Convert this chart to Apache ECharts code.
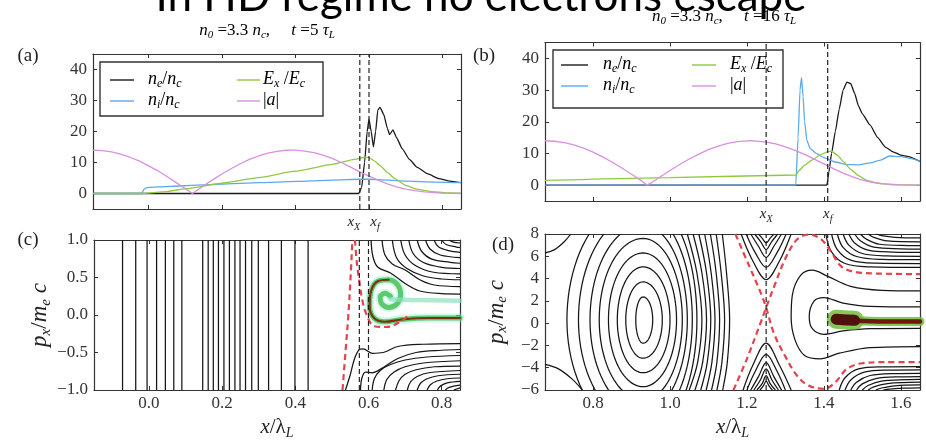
<!DOCTYPE html>
<html><head><meta charset="utf-8">
<script src="https://cdn.jsdelivr.net/npm/echarts@6/dist/echarts.min.js"></script>
<style>html,body{margin:0;padding:0;background:#fff;}#fig{width:926px;height:441px;}</style>
</head><body><div id="fig"></div>
<script>
// ---------------- axis ranges and ticks ----------------
const xRangeEarly = [-0.15, 0.85];   // panels (a), (c)
const xRangeLate = [0.675, 1.65];    // panels (b), (d)
const yRangeProfile = [-5, 45];
const yRangePhaseC = [-1, 1];
const yRangePhaseD = [-6, 8];
const xTicksEarly = [0, 0.2, 0.4, 0.6, 0.8];
const xTicksLate = [0.8, 1.0, 1.2, 1.4, 1.6];
const yTicksProfile = [0, 10, 20, 30, 40];
const yTicksC = [-1, -0.5, 0, 0.5, 1];
const yTicksD = [-6, -4, -2, 0, 2, 4, 6, 8];
const frontEarly = [0.575, 0.6];   // x_X, x_f at t = 5 tau_L
const frontLate = [1.25, 1.41];    // x_X, x_f at t = 16 tau_L

// ---------------- panel (a): profiles at t = 5 tau_L ----------------
const aNe = [[-0.15,0],[0.572,0],[0.58,2],[0.588,10],[0.595,20],[0.6,24],[0.606,20],[0.612,15],[0.618,20],[0.624,27],[0.63,27.8],[0.64,25.5],[0.65,21],[0.656,19],[0.665,20.5],[0.675,18],[0.69,14.5],[0.71,11],[0.73,8.5],[0.76,6.3],[0.79,4.8],[0.82,4],[0.85,3.5]];
const aNi = [[-0.15,0],[-0.018,0],[-0.01,1.6],[0.0,2.0],[0.1,2.5],[0.2,3],[0.3,3.5],[0.4,3.9],[0.5,4.3],[0.575,4.6],[0.6,4.6],[0.65,4.3],[0.7,4.0],[0.78,3.7],[0.85,3.5]];
const aEx = [[-0.15,0],[-0.02,0],[0.05,0.6],[0.1,1.5],[0.2,3.3],[0.3,5.1],[0.4,7.2],[0.5,9.4],[0.56,11],[0.59,11.7],[0.6,11.6],[0.615,10.5],[0.63,9],[0.65,6.8],[0.67,4.8],[0.7,2.6],[0.73,1.4],[0.77,0.6],[0.81,0.2],[0.85,0.1]];
const aA = [[-0.15,14],[-0.125,13.85],[-0.1,13.4],[-0.075,12.7],[-0.05,11.7],[-0.025,10.5],[0,9.0],[0.025,7.4],[0.05,5.55],[0.075,3.6],[0.1,1.6],[0.12,0],[0.125,0.4],[0.15,2.4],[0.175,4.4],[0.2,6.3],[0.225,8.0],[0.25,9.6],[0.275,11.0],[0.3,12.1],[0.325,13.0],[0.35,13.6],[0.375,13.95],[0.39,14],[0.4,13.98],[0.425,13.7],[0.45,13.2],[0.475,12.4],[0.5,11.3],[0.525,10.0],[0.55,8.5],[0.575,7.0],[0.6,5.6],[0.625,4.3],[0.65,3.1],[0.675,2.1],[0.7,1.4],[0.725,0.9],[0.75,0.5],[0.8,0.15],[0.85,0]];

// ---------------- panel (b): profiles at t = 16 tau_L ----------------
const bNe = [[0.675,0],[1.408,0],[1.413,4],[1.42,10],[1.43,17],[1.44,24],[1.45,30],[1.46,32.5],[1.47,32],[1.48,29],[1.49,25],[1.5,22.5],[1.52,19],[1.54,15],[1.56,12],[1.58,10.5],[1.6,9.5],[1.62,9],[1.65,7.5]];
const bNi = [[0.675,0],[1.327,0],[1.333,15],[1.338,30],[1.342,34],[1.346,28],[1.35,20],[1.356,14],[1.365,11.5],[1.38,10],[1.4,8.7],[1.43,7.3],[1.46,6.5],[1.49,6.4],[1.52,7],[1.55,8],[1.57,9.2],[1.6,9],[1.63,8.3],[1.65,7.5]];
const bEx = [[0.675,1.5],[1.0,2.4],[1.327,3.2],[1.335,4.5],[1.35,6.3],[1.37,8],[1.39,9.5],[1.41,10.6],[1.42,10.7],[1.435,9.5],[1.45,7.5],[1.47,5],[1.49,3],[1.51,1.6],[1.54,0.6],[1.58,0.1],[1.65,0]];
const bA = [[0.675,14],[0.7,13.85],[0.725,13.4],[0.75,12.67],[0.775,11.66],[0.8,10.4],[0.825,8.9],[0.85,7.24],[0.875,5.4],[0.9,3.46],[0.925,1.44],[0.94,0],[0.95,0.62],[0.975,2.66],[1.0,4.64],[1.025,6.52],[1.05,8.26],[1.075,9.81],[1.1,11.18],[1.125,12.3],[1.15,13.17],[1.175,13.72],[1.2,13.98],[1.21,14],[1.225,13.9],[1.25,13.6],[1.275,13.0],[1.3,12.1],[1.325,11.0],[1.35,9.7],[1.375,8.2],[1.4,6.7],[1.425,5.2],[1.45,3.8],[1.475,2.6],[1.5,1.6],[1.525,0.9],[1.55,0.45],[1.6,0.1],[1.65,0]];

// ---------------- panel (c): phase space contours at t = 5 tau_L ----------------
const cVertical = [-0.072,-0.036,-0.005,0.021,0.045,0.068,0.09,0.147,0.162,0.176,0.19,0.205,0.22,0.235,0.249,0.264,0.281,0.299,0.327,0.362,0.399,0.435];
const cUpper = [
  [[0.607,1],[0.612,0.78],[0.625,0.64],[0.66,0.56],[0.7,0.42],[0.74,0.32],[0.8,0.285],[0.85,0.28]],
  [[0.637,1],[0.645,0.8],[0.665,0.68],[0.7,0.6],[0.74,0.47],[0.78,0.4],[0.85,0.38]],
  [[0.665,1],[0.677,0.76],[0.705,0.62],[0.75,0.52],[0.8,0.48],[0.85,0.47]],
  [[0.688,1],[0.7,0.8],[0.728,0.66],[0.778,0.57],[0.85,0.55]],
  [[0.71,1],[0.722,0.82],[0.75,0.7],[0.8,0.635],[0.85,0.62]],
  [[0.733,1],[0.745,0.85],[0.773,0.745],[0.823,0.702],[0.85,0.69]],
  [[0.756,1],[0.768,0.88],[0.796,0.8],[0.85,0.765]],
  [[0.779,1],[0.791,0.91],[0.819,0.858],[0.85,0.835]],
  [[0.8,1],[0.812,0.94],[0.84,0.906],[0.85,0.9]],
  [[0.82,1],[0.832,0.972],[0.85,0.96]]
];
const cLower = [
  [[0.537,-1],[0.55,-0.8],[0.562,-0.58],[0.575,-0.46],[0.585,-0.45],[0.61,-0.51],[0.64,-0.5],[0.68,-0.42],[0.75,-0.39],[0.85,-0.38]],
  [[0.578,-1],[0.582,-0.84],[0.592,-0.76],[0.61,-0.77],[0.64,-0.7],[0.68,-0.58],[0.73,-0.5],[0.8,-0.47],[0.85,-0.46]],
  [[0.61,-1],[0.616,-0.85],[0.632,-0.74],[0.66,-0.66],[0.7,-0.6],[0.76,-0.56],[0.85,-0.54]],
  [[0.642,-1],[0.65,-0.86],[0.67,-0.76],[0.7,-0.69],[0.75,-0.64],[0.85,-0.61]],
  [[0.674,-1],[0.683,-0.88],[0.7,-0.79],[0.73,-0.73],[0.78,-0.69],[0.85,-0.68]],
  [[0.706,-1],[0.715,-0.89],[0.733,-0.82],[0.765,-0.77],[0.85,-0.74]],
  [[0.733,-1],[0.742,-0.91],[0.76,-0.85],[0.79,-0.81],[0.85,-0.79]],
  [[0.76,-1],[0.769,-0.93],[0.787,-0.88],[0.815,-0.85],[0.85,-0.84]],
  [[0.788,-1],[0.797,-0.945],[0.815,-0.905],[0.85,-0.885]],
  [[0.81,-1],[0.82,-0.965],[0.85,-0.935]],
  [[0.833,-1],[0.85,-0.972]]
];
const cSeparatrix = [
  [[0.529,-1],[0.537,-0.5],[0.545,0],[0.551,0.5],[0.556,1]],
  [[0.563,1],[0.568,0.7],[0.575,0.45],[0.583,0.2],[0.595,0],[0.615,-0.15],[0.65,-0.16],[0.69,-0.08],[0.71,0.0]]
];
const cSwirl = [[0.85,-0.04],[0.76,-0.04],[0.69,-0.06],[0.645,-0.09],[0.615,-0.04],[0.603,0.12],[0.607,0.32],[0.625,0.45],[0.655,0.47],[0.68,0.4],[0.688,0.27],[0.678,0.15],[0.655,0.1],[0.636,0.15],[0.632,0.24],[0.645,0.29],[0.66,0.25]];
const cSwirlTail = [[0.66,0.21],[0.72,0.2],[0.85,0.19]];

// ---------------- panel (d): phase space contours at t = 16 tau_L ----------------
// closed orbits: [centre x, centre y, left x, right x, top y, bottom y]
const dOrbits = [
  [0.93,0.3,0.911,0.955,2.35,-1.8],
  [0.93,0.3,0.885,0.98,3.7,-3.15],
  [0.93,0.3,0.863,1.0,5.05,-4.45],
  [0.93,0.3,0.84,1.017,6.3,-5.7],
  [0.93,0.3,0.816,1.032,7.6,-6.9],
  [0.93,0.3,0.792,1.045,8.8,-8.0],
  [0.93,0.3,0.762,1.058,10.0,-9.1],
  [0.93,0.3,0.732,1.07,11.2,-10.2]
];
const dArcs = [
  [[1.045,8],[1.07,4.5],[1.083,0.3],[1.072,-3.5],[1.05,-6]],
  [[1.06,8],[1.083,4.5],[1.095,0.3],[1.085,-3.5],[1.065,-6]],
  [[1.075,8],[1.095,4.5],[1.106,0.3],[1.097,-3.5],[1.08,-6]],
  [[1.09,8],[1.107,4.5],[1.117,0.3],[1.109,-3.5],[1.094,-6]],
  [[1.105,8],[1.12,4.5],[1.129,0.3],[1.122,-3.5],[1.108,-6]],
  [[1.12,8],[1.133,4.5],[1.142,0.3],[1.135,-3.5],[1.122,-6]],
  [[1.136,8],[1.147,4.5],[1.155,0.3],[1.149,-3.5],[1.137,-6]],
  [[0.675,6.3],[0.7,6.6],[0.725,7.3],[0.742,8]],
  [[0.675,-3.7],[0.71,-4.1],[0.745,-5],[0.772,-6]]
];
const dSaddleUp = [
  [[1.185,8],[1.215,5.6],[1.25,3.9],[1.285,5.6],[1.315,8]],
  [[1.198,8],[1.222,6.3],[1.25,5.0],[1.278,6.3],[1.302,8]],
  [[1.21,8],[1.23,6.9],[1.25,5.9],[1.27,6.9],[1.29,8]],
  [[1.22,8],[1.236,7.3],[1.25,6.6],[1.264,7.3],[1.28,8]],
  [[1.23,8],[1.24,7.6],[1.25,7.2],[1.26,7.6],[1.27,8]]
];
const dSaddleDown = [
  [[1.19,-6],[1.215,-3.8],[1.25,-1.8],[1.285,-3.8],[1.315,-6]],
  [[1.2,-6],[1.222,-4.3],[1.25,-2.8],[1.278,-4.3],[1.3,-6]],
  [[1.21,-6],[1.23,-4.8],[1.25,-3.55],[1.27,-4.8],[1.29,-6]],
  [[1.218,-6],[1.235,-5.1],[1.25,-4.1],[1.265,-5.1],[1.282,-6]],
  [[1.226,-6],[1.24,-5.4],[1.25,-4.7],[1.26,-5.4],[1.274,-6]],
  [[1.234,-6],[1.243,-5.6],[1.25,-5.2],[1.257,-5.6],[1.266,-6]]
];
const dInner = [
  [[1.65,2.9],[1.55,2.95],[1.47,3.3],[1.41,4.2],[1.37,4.75],[1.34,4.3],[1.318,2.5],[1.315,0.5],[1.325,-1.5],[1.35,-2.9],[1.39,-3.2],[1.44,-2.7],[1.52,-2.2],[1.65,-2.1]],
  [[1.65,1.45],[1.52,1.5],[1.45,1.8],[1.4,2.3],[1.375,2.0],[1.362,0.6],[1.37,-0.5],[1.4,-1.0],[1.45,-0.7],[1.52,-0.5],[1.65,-0.47]]
];
const dUpperRight = [
  [[1.405,8],[1.42,6.4],[1.455,5.35],[1.52,5.05],[1.65,5.0]],
  [[1.42,8],[1.435,6.6],[1.47,5.65],[1.535,5.38],[1.65,5.35]],
  [[1.435,8],[1.45,6.8],[1.485,5.98],[1.55,5.73],[1.65,5.7]],
  [[1.45,8],[1.465,7.0],[1.5,6.25],[1.565,6.03],[1.65,6.0]],
  [[1.465,8],[1.48,7.2],[1.515,6.55],[1.58,6.38],[1.65,6.35]],
  [[1.48,8],[1.495,7.4],[1.53,6.82],[1.6,6.67],[1.65,6.65]],
  [[1.495,8],[1.51,7.55],[1.545,7.08],[1.62,6.96],[1.65,6.95]],
  [[1.515,8],[1.53,7.7],[1.565,7.38],[1.65,7.3]],
  [[1.535,8],[1.55,7.85],[1.585,7.7],[1.65,7.65]]
];
const dLowerRight = [
  [[1.44,-6],[1.455,-4.9],[1.49,-4.1],[1.55,-3.92],[1.65,-3.9]],
  [[1.455,-6],[1.47,-5.1],[1.505,-4.4],[1.565,-4.22],[1.65,-4.2]],
  [[1.47,-6],[1.485,-5.3],[1.52,-4.7],[1.58,-4.52],[1.65,-4.5]],
  [[1.485,-6],[1.5,-5.45],[1.535,-4.97],[1.6,-4.82],[1.65,-4.8]],
  [[1.5,-6],[1.515,-5.6],[1.55,-5.2],[1.615,-5.07],[1.65,-5.05]],
  [[1.515,-6],[1.53,-5.72],[1.565,-5.42],[1.65,-5.3]],
  [[1.535,-6],[1.55,-5.82],[1.585,-5.62],[1.65,-5.55]],
  [[1.555,-6],[1.57,-5.92],[1.605,-5.84],[1.65,-5.8]]
];
const dSeparatrix = [
  [[1.165,-6],[1.2,-3.2],[1.232,-0.3],[1.25,1.4],[1.272,3.4],[1.3,5.8],[1.33,7.5],[1.36,7.95],[1.39,7.6],[1.415,6.6],[1.445,5.1],[1.48,4.6],[1.54,4.45],[1.65,4.4]],
  [[1.17,8],[1.205,5.2],[1.235,2.8],[1.25,1.4],[1.27,-0.9],[1.3,-3.0],[1.33,-4.7],[1.36,-5.6],[1.4,-5.9],[1.43,-5.3],[1.46,-4.1],[1.5,-3.6],[1.56,-3.5],[1.65,-3.5]]
];
const dBunchHead = [[1.432,0.35],[1.45,0.3],[1.48,0.25]];
const dBunchTail = [[1.432,0.3],[1.5,0.2],[1.57,0.15],[1.65,0.15]];

// ---------------- styles ----------------
const SERIF = 'Liberation Serif';
const INK = '#161616';
const RED = '#e2434d';
const AXIS = '#333';
const C_NE = '#1a1a1a', C_NI = '#5ea8ec', C_EX = '#90c940', C_A = '#d890e0';

function mathRich(base, sub, color) {
  const c = color || '#222';
  return {
    i: {fontFamily: SERIF, fontStyle: 'italic', fontSize: base, lineHeight: base, verticalAlign: 'top', color: c},
    r: {fontFamily: SERIF, fontSize: base, lineHeight: base, verticalAlign: 'top', color: c},
    s: {fontFamily: SERIF, fontStyle: 'italic', fontSize: sub, lineHeight: sub, padding: [Math.round(base * 0.45), 0, 0, 0], verticalAlign: 'top', color: c},
    g: {width: 12, fontSize: base, lineHeight: base}
  };
}
const signed = (d) => (v) => (v < 0 ? '\u2212' : '') + Math.abs(v).toFixed(d);

const grids = [
  {left: 93, top: 54, width: 368, height: 155},
  {left: 545, top: 42.5, width: 375, height: 158.5},
  {left: 94, top: 240, width: 366, height: 154},
  {left: 545, top: 234, width: 375, height: 159}
];

const xAxes = [], yAxes = [];
function frame(gi, xr, yr, xt, yt, o) {
  const lineStyle = {color: AXIS, width: 1.2};
  const tick = (vals) => ({show: true, inside: true, length: 4, customValues: vals, lineStyle: {color: AXIS, width: 1}});
  const lab = {fontFamily: SERIF, fontSize: 17, color: '#333'};
  xAxes[gi] = Object.assign({gridIndex: gi, type: 'value', min: xr[0], max: xr[1], position: 'bottom',
    axisLine: {onZero: false, lineStyle}, axisTick: tick(xt), splitLine: {show: false},
    axisLabel: o.xLabel}, o.xName || {});
  xAxes[gi + 4] = {gridIndex: gi, type: 'value', min: xr[0], max: xr[1], position: 'top',
    axisLine: {onZero: false, lineStyle}, axisTick: tick(xt), splitLine: {show: false}, axisLabel: {show: false}};
  yAxes[gi] = Object.assign({gridIndex: gi, type: 'value', min: yr[0], max: yr[1], position: 'left',
    axisLine: {onZero: false, lineStyle}, axisTick: tick(yt), splitLine: {show: false},
    axisLabel: Object.assign({customValues: yt, formatter: o.yFmt, margin: 6}, lab)}, o.yName || {});
  yAxes[gi + 4] = {gridIndex: gi, type: 'value', min: yr[0], max: yr[1], position: 'right',
    axisLine: {onZero: false, lineStyle}, axisTick: tick(yt), splitLine: {show: false}, axisLabel: {show: false}};
}
const tickLab = {fontFamily: SERIF, fontSize: 17, color: '#333', margin: 5};
// bare axis that only carries one front label (x_X) under a profile panel
function frontAxis(gi, xr, x, text) {
  return {gridIndex: gi, type: 'value', min: xr[0], max: xr[1], position: 'bottom',
    axisLine: {show: false}, axisTick: {show: false}, splitLine: {show: false},
    axisLabel: {customValues: [x], margin: 6, formatter: () => text, rich: mathRich(15, 10)}};
}
const xName = (gap) => ({name: '{i|x}{r|/\u03bb}{s|L}', nameLocation: 'middle', nameGap: gap,
  nameTextStyle: {rich: mathRich(21, 14)}});
const yName = (gap) => ({name: '{i|p}{s|x}{r|/}{i|m}{s|e}{i| c}', nameLocation: 'middle', nameGap: gap, nameRotate: 90,
  nameTextStyle: {rich: mathRich(23, 15)}});

frame(0, xRangeEarly, yRangeProfile, xTicksEarly, yTicksProfile,
  {xLabel: {customValues: [frontEarly[1]], margin: 6, formatter: () => '{g|}{i|x}{s|f}', rich: mathRich(15, 10)}, yFmt: signed(0)});
frame(1, xRangeLate, yRangeProfile, xTicksLate, yTicksProfile,
  {xLabel: {customValues: [frontLate[1]], margin: 6, formatter: () => '{i|x}{s|f}', rich: mathRich(15, 10)}, yFmt: signed(0)});
frame(2, xRangeEarly, yRangePhaseC, xTicksEarly, yTicksC, {xLabel: Object.assign({customValues: xTicksEarly, formatter: signed(1)}, tickLab), yFmt: signed(1), xName: xName(27), yName: yName(42)});
frame(3, xRangeLate, yRangePhaseD, xTicksLate, yTicksD, {xLabel: Object.assign({customValues: xTicksLate, formatter: signed(1)}, tickLab), yFmt: signed(0), xName: xName(27), yName: yName(37)});
xAxes[8] = frontAxis(0, xRangeEarly, frontEarly[0], '{i|x}{s|X}{g|}');
xAxes[9] = frontAxis(1, xRangeLate, frontLate[0], '{i|x}{s|X}');

// ---------------- series ----------------
const series = [];
function curve(gi, pts, lineStyle, extra) {
  series.push(Object.assign({type: 'line', xAxisIndex: gi, yAxisIndex: gi, data: pts, symbol: 'none',
    silent: true, animation: false, smooth: 0.35, clip: true, lineStyle, z: 2}, extra || {}));
}
const profile = {smooth: 0.15, smoothMonotone: 'x'};
const thin = (c) => ({color: c, width: 1.3});

// profiles
[[0, aNe, aNi, aEx, aA], [1, bNe, bNi, bEx, bA]].forEach(([gi, ne, ni, ex, a]) => {
  curve(gi, ne, thin(C_NE), profile);
  curve(gi, ni, thin(C_NI), profile);
  curve(gi, ex, thin(C_EX), profile);
  curve(gi, a, thin(C_A), {smooth: false});
});

// contours
const contour = {color: INK, width: 1.25};
cVertical.forEach(x => curve(2, [[x, yRangePhaseC[0]], [x, yRangePhaseC[1]]], contour, {smooth: false}));
cUpper.forEach(p => curve(2, p, contour));
cLower.forEach(p => curve(2, p, contour));
dArcs.forEach(p => curve(3, p, contour));
dSaddleUp.forEach(p => curve(3, p, contour));
dSaddleDown.forEach(p => curve(3, p, contour));
dInner.forEach(p => curve(3, p, contour));
dUpperRight.forEach(p => curve(3, p, contour));
dLowerRight.forEach(p => curve(3, p, contour));

series.push({
  type: 'custom', xAxisIndex: 3, yAxisIndex: 3, data: dOrbits, clip: true, silent: true, animation: false, z: 2,
  encode: {x: 0, y: 1},
  renderItem: (params, api) => {
    const cx = api.value(0), cy = api.value(1), xl = api.value(2), xr = api.value(3), yt = api.value(4), yb = api.value(5);
    const pts = [];
    for (let k = 0; k <= 96; k++) {
      const t = k / 96 * 2 * Math.PI, c = Math.cos(t), s = Math.sin(t);
      pts.push(api.coord([cx + (c >= 0 ? xr - cx : cx - xl) * c, cy + (s >= 0 ? yt - cy : cy - yb) * s]));
    }
    return {type: 'polyline', shape: {points: pts}, style: {fill: 'none', stroke: INK, lineWidth: 1.25}};
  }
});

// electron phase-space density
curve(2, cSwirl, {color: 'rgba(140,235,220,0.4)', width: 9, cap: 'round', join: 'round'}, {z: 3});
curve(2, cSwirl, {color: 'rgba(80,195,90,0.9)', width: 5, cap: 'round', join: 'round'}, {z: 3});
curve(2, cSwirl.slice(0, 9), {color: '#7a3414', width: 2.2, cap: 'round'}, {z: 3});
curve(2, cSwirlTail, {color: 'rgba(140,225,190,0.7)', width: 4.5, cap: 'round'}, {z: 3});
curve(3, dBunchTail, {color: 'rgba(110,190,60,0.85)', width: 9, cap: 'round'}, {z: 3, smooth: 0.3});
curve(3, dBunchHead, {color: 'rgba(110,190,60,0.85)', width: 19, cap: 'round'}, {z: 3});
curve(3, dBunchTail, {color: '#6a1a10', width: 4.5, cap: 'round'}, {z: 3});
curve(3, dBunchHead, {color: '#50100c', width: 11, cap: 'round'}, {z: 3});

// separatrices
const sep = {color: RED, width: 2.2, type: [6, 4]};
cSeparatrix.forEach(p => curve(2, p, sep, {z: 4}));
dSeparatrix.forEach(p => curve(3, p, sep, {z: 4}));

// x_X and x_f markers
const dashed = {color: '#222', width: 1.2, type: [5, 3]};
[[0, frontEarly, yRangeProfile], [1, frontLate, yRangeProfile], [2, frontEarly, yRangePhaseC], [3, frontLate, yRangePhaseD]]
  .forEach(([gi, xs, yr]) => xs.forEach(x => curve(gi, [[x, yr[0]], [x, yr[1]]], dashed, {smooth: false, z: 5})));

// ---------------- legends, titles, panel tags ----------------
function legendBox(x, y, w, h, rows) {
  const children = [{type: 'rect', shape: {x, y, width: w, height: h}, style: {fill: '#fff', stroke: '#333', lineWidth: 1.4}}];
  rows.forEach(r => {
    children.push({type: 'line', shape: {x1: r.x1, y1: r.y, x2: r.x2, y2: r.y}, style: {stroke: r.c, lineWidth: 1.4}});
    children.push({type: 'text', style: {text: r.t, x: r.tx, y: r.y - 10, rich: mathRich(18, 12)}});
  });
  return {type: 'group', z: 20, children};
}
const LEG_NE = '{i|n}{s|e}{r|/}{i|n}{s|c}', LEG_NI = '{i|n}{s|i}{r|/}{i|n}{s|c}', LEG_EX = '{i|E}{s|x}{r| /}{i|E}{s|c}', LEG_A = '{r||}{i|a}{r||}';

const graphic = [
  {type: 'text', style: {text: '{i|n}{s|0}{r| =3.3 }{i|n}{s|c}{r|,     }{i|t}{r| =5 }{i|\u03c4}{s|L}', x: 267, y: 22, align: 'center', rich: mathRich(17, 11, '#444')}},
  {type: 'text', style: {text: '{i|n}{s|0}{r| =3.3 }{i|n}{s|c}{r|,     }{i|t}{r| =16 }{i|\u03c4}{s|L}', x: 724, y: 8, align: 'center', rich: mathRich(17, 11, '#444')}},
  {type: 'text', z: 30, style: {text: 'In HD regime no electrons escape', x: 481, y: 19, align: 'center', verticalAlign: 'bottom',
    font: '44px Lato', fill: '#000'}},
  {type: 'text', style: {text: '(a)', x: 28, y: 56, align: 'center', verticalAlign: 'middle', font: '19px "Liberation Serif"', fill: '#222'}},
  {type: 'text', style: {text: '(b)', x: 484, y: 56, align: 'center', verticalAlign: 'middle', font: '19px "Liberation Serif"', fill: '#222'}},
  {type: 'text', style: {text: '(c)', x: 28, y: 240, align: 'center', verticalAlign: 'middle', font: '19px "Liberation Serif"', fill: '#222'}},
  {type: 'text', style: {text: '(d)', x: 503, y: 245, align: 'center', verticalAlign: 'middle', font: '19px "Liberation Serif"', fill: '#222'}},
  legendBox(100, 62, 223, 54, [
    {x1: 110, x2: 134, y: 80, c: C_NE, t: LEG_NE, tx: 148},
    {x1: 110, x2: 134, y: 101, c: C_NI, t: LEG_NI, tx: 148},
    {x1: 237, x2: 260, y: 80, c: C_EX, t: LEG_EX, tx: 263},
    {x1: 237, x2: 260, y: 101, c: C_A, t: LEG_A, tx: 263}
  ]),
  legendBox(553, 50, 230, 58, [
    {x1: 561, x2: 588, y: 65, c: C_NE, t: LEG_NE, tx: 603},
    {x1: 561, x2: 588, y: 86, c: C_NI, t: LEG_NI, tx: 603},
    {x1: 692, x2: 716, y: 65, c: C_EX, t: LEG_EX, tx: 730},
    {x1: 692, x2: 716, y: 86, c: C_A, t: LEG_A, tx: 730}
  ])
];

const chart = echarts.init(document.getElementById('fig'), null, {renderer: 'canvas'});
chart.setOption({
  animation: false,
  backgroundColor: '#fff',
  grid: grids,
  xAxis: xAxes,
  yAxis: yAxes,
  series,
  graphic
});
</script></body></html>
